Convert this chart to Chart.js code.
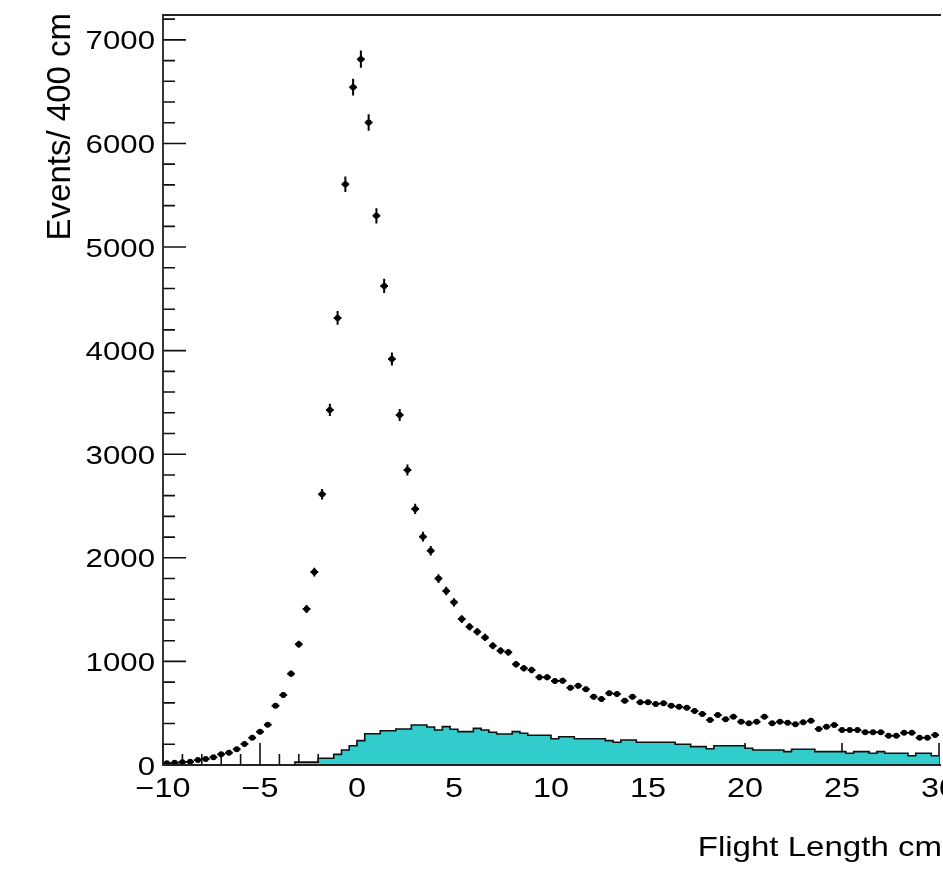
<!DOCTYPE html>
<html>
<head>
<meta charset="utf-8">
<script src="https://cdn.jsdelivr.net/npm/chart.js@4/dist/chart.umd.min.js"></script>
<style>
  html, body { margin: 0; padding: 0; background: #fff; overflow: hidden; }
  canvas { display: block; }
</style>
</head>
<body>
<canvas id="myChart" width="943" height="876"></canvas>
<script>
// 100 bins of 0.4 cm between -10 and 30
const binLow = -10;
const binWidth = 0.4;
const nBins = 100;
const binEdges = Array.from({ length: nBins + 1 }, (_, i) => +(binLow + i * binWidth).toFixed(1));
const binCenters = binEdges.slice(0, nBins).map(e => +(e + binWidth / 2).toFixed(1));

// data (black points)
const dataCounts = [
  16, 22, 26, 32, 48, 58, 74, 103, 119, 152,
  203, 264, 322, 389, 573, 676, 882, 1165, 1506, 1862,
  2614, 3428, 4316, 5607, 6543, 6814, 6202, 5301, 4625, 3920,
  3379, 2848, 2472, 2204, 2069, 1800, 1680, 1570, 1409, 1335,
  1287, 1232, 1152, 1103, 1088, 972, 933, 917, 847, 847,
  811, 814, 746, 765, 731, 659, 637, 692, 685, 621,
  659, 605, 605, 589, 596, 573, 563, 553, 521, 492,
  434, 483, 441, 466, 418, 402, 418, 466, 402, 418,
  408, 393, 412, 428, 347, 370, 386, 338, 338, 338,
  316, 316, 316, 283, 283, 312, 312, 264, 264, 290
];

// cyan histogram
const mcCounts = [
  0, 0, 0, 0, 0, 0, 0, 0, 0, 0,
  0, 0, 0, 0, 0, 0, 0, 28, 28, 28,
  65, 65, 103, 145, 186, 235, 302, 302, 331, 331,
  348, 348, 386, 386, 367, 338, 370, 345, 322, 322,
  354, 338, 316, 299, 299, 322, 306, 287, 287, 287,
  254, 273, 273, 254, 254, 254, 254, 235, 219, 241,
  241, 219, 219, 219, 219, 219, 200, 200, 177, 177,
  157, 186, 186, 186, 186, 161, 145, 145, 145, 145,
  129, 152, 152, 152, 129, 129, 129, 129, 113, 129,
  129, 113, 129, 113, 113, 113, 90, 113, 113, 90
];

const xMajorTicks = [-10, -5, 0, 5, 10, 15, 20, 25, 30];
const xTickLabels = ["\u221210", "\u22125", "0", "5", "10", "15", "20", "25", "30"];
const xMinorTicks = Array.from({ length: 41 }, (_, i) => -10 + i);
const yMajorTicks = [0, 1000, 2000, 3000, 4000, 5000, 6000, 7000];
const yTickLabels = ["0", "1000", "2000", "3000", "4000", "5000", "6000", "7000"];
const yMinorTicks = Array.from({ length: 37 }, (_, i) => i * 200);

const xTitle = "Flight Length cm";
const yTitle = "Events/ 400 cm";

const histPoints = binEdges.map((e, i) => ({ x: e, y: mcCounts[Math.min(i, nBins - 1)] }));
const dataPoints = binCenters.map((c, i) => ({ x: c, y: dataCounts[i] }));

const FONT = '"Liberation Sans", Arial, Helvetica, sans-serif';

function stretchedText(ctx, text, x, y, align, size, sx) {
  ctx.save();
  ctx.translate(x, y);
  ctx.scale(sx, 1);
  ctx.font = size + 'px ' + FONT;
  ctx.textAlign = align;
  ctx.textBaseline = 'alphabetic';
  ctx.fillStyle = '#000';
  ctx.fillText(text, 0, 0);
  ctx.restore();
}

const rootFrame = {
  id: 'rootFrame',
  beforeDatasetsDraw(chart) {
    const ctx = chart.ctx;
    const xs = chart.scales.x, ys = chart.scales.y;
    const area = chart.chartArea;
    ctx.save();
    ctx.strokeStyle = '#111';
    ctx.lineWidth = 1.6;
    ctx.beginPath();
    yMinorTicks.forEach(v => {
      if (v > ys.max) return;
      const py = ys.getPixelForValue(v);
      const len = yMajorTicks.includes(v) ? 23 : 12;
      ctx.moveTo(area.left, py);
      ctx.lineTo(area.left + len, py);
    });
    xMinorTicks.forEach(v => {
      const px = xs.getPixelForValue(v);
      const len = xMajorTicks.includes(v) ? 22 : 11;
      ctx.moveTo(px, area.bottom);
      ctx.lineTo(px, area.bottom - len);
    });
    ctx.stroke();
    ctx.restore();

    yMajorTicks.forEach((v, i) => {
      stretchedText(ctx, yTickLabels[i], 155, ys.getPixelForValue(v) + 9.5, 'right', 26, 1.2);
    });
    xMajorTicks.forEach((v, i) => {
      stretchedText(ctx, xTickLabels[i], xs.getPixelForValue(v), 797, 'center', 27, 1.2);
    });
    stretchedText(ctx, xTitle, 942, 856, 'right', 28, 1.18);

    ctx.save();
    ctx.translate(70, 13);
    ctx.rotate(-Math.PI / 2);
    ctx.font = '33px ' + FONT;
    ctx.textAlign = 'right';
    ctx.textBaseline = 'alphabetic';
    ctx.fillStyle = '#000';
    ctx.fillText(yTitle, 0, 0);
    ctx.restore();
  },
  afterDatasetsDraw(chart) {
    const ctx = chart.ctx;
    const xs = chart.scales.x, ys = chart.scales.y;
    const area = chart.chartArea;
    ctx.save();
    ctx.strokeStyle = '#000';
    ctx.lineWidth = 2;
    ctx.beginPath();
    dataPoints.forEach(p => {
      const px = xs.getPixelForValue(p.x);
      const py = ys.getPixelForValue(p.y);
      const err = Math.sqrt(p.y);
      ctx.moveTo(xs.getPixelForValue(p.x - binWidth / 2), py);
      ctx.lineTo(xs.getPixelForValue(p.x + binWidth / 2), py);
      ctx.moveTo(px, ys.getPixelForValue(p.y - err));
      ctx.lineTo(px, ys.getPixelForValue(p.y + err));
    });
    ctx.stroke();

    ctx.strokeStyle = '#222';
    ctx.lineWidth = 1.8;
    ctx.beginPath();
    ctx.moveTo(area.right + 2, area.top);
    ctx.lineTo(area.left, area.top);
    ctx.lineTo(area.left, area.bottom);
    ctx.lineTo(area.right + 2, area.bottom);
    ctx.stroke();
    ctx.restore();
  }
};

new Chart(document.getElementById('myChart').getContext('2d'), {
  data: {
    datasets: [
      {
        type: 'line',
        label: 'MC',
        data: histPoints,
        stepped: 'before',
        fill: 'origin',
        backgroundColor: '#33cccc',
        borderColor: '#111',
        borderWidth: 1.6,
        pointRadius: 0,
        order: 2
      },
      {
        type: 'scatter',
        label: 'Data',
        data: dataPoints,
        pointStyle: 'circle',
        pointRadius: 3,
        backgroundColor: '#000',
        borderColor: '#000',
        borderWidth: 0,
        order: 1
      }
    ]
  },
  options: {
    responsive: false,
    animation: false,
    devicePixelRatio: 1,
    layout: { padding: { left: 163, right: 0, top: 15, bottom: 111 } },
    scales: {
      x: { type: 'linear', min: -10, max: 30, display: false },
      y: { type: 'linear', min: 0, max: 7240, display: false }
    },
    plugins: {
      legend: { display: false },
      tooltip: { enabled: false }
    }
  },
  plugins: [rootFrame]
});
</script>
</body>
</html>
